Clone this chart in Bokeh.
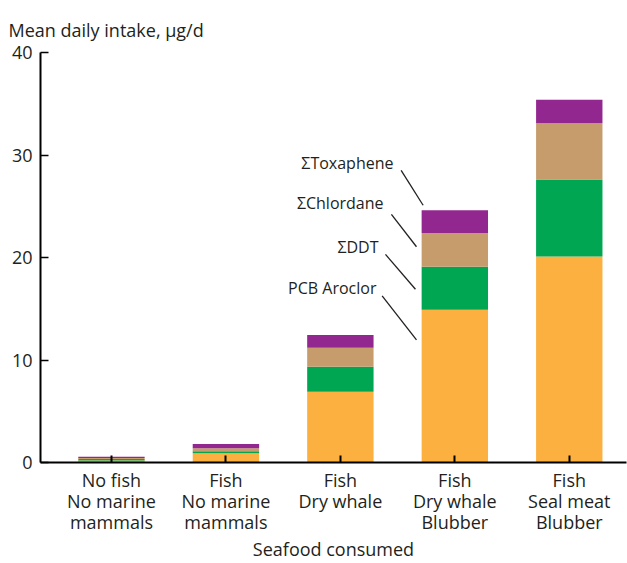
from bokeh.plotting import figure
from bokeh.models import ColumnDataSource, FixedTicker, Range1d
from bokeh.core.properties import value
from bokeh.embed import file_html
from bokeh.resources import INLINE

categories = ["No fish\nNo marine\nmammals", "Fish\nNo marine\nmammals", "Fish\nDry whale",
              "Fish\nDry whale\nBlubber", "Fish\nSeal meat\nBlubber"]
series = ["PCB Aroclor", "ΣDDT", "ΣChlordane", "ΣToxaphene"]
pcb = [0.2, 0.9, 6.9, 14.9, 20.1]
ddt = [0.15, 0.2, 2.45, 4.2, 7.5]
chlordane = [0.1, 0.3, 1.85, 3.3, 5.5]
toxaphene = [0.12, 0.4, 1.25, 2.2, 2.3]
colors = ["#FBB040", "#00A651", "#C69C6D", "#92278F"]
y_ticks = [0, 10, 20, 30, 40]

FONT = "Open Sans"
xs = list(range(len(categories)))
src = ColumnDataSource(dict(x=xs, pcb=pcb, ddt=ddt, chl=chlordane, tox=toxaphene))

p = figure(width=627, height=563, output_backend="svg", toolbar_location=None,
           x_range=Range1d(-0.62, 4.5), y_range=Range1d(0, 40),
           min_border_left=40, min_border_right=1, min_border_top=52, min_border_bottom=100)
p.vbar_stack(["pcb", "ddt", "chl", "tox"], x="x", width=0.58, source=src,
             color=colors, line_color=None)

p.title.text = "Mean daily intake, µg/d"
p.title.align = "left"
p.title.offset = -32
p.title.vertical_align = "top"
p.title.text_font = FONT
p.title.text_font_size = "18px"
p.title.text_font_style = "normal"
p.title.text_color = "#231F20"
p.title.standoff = 18

p.xgrid.visible = False
p.ygrid.visible = False
p.outline_line_color = None
p.background_fill_color = "white"
p.border_fill_color = "white"

xa = p.xaxis[0]
xa.ticker = FixedTicker(ticks=xs)
xa.major_label_overrides = {i: c for i, c in enumerate(categories)}
xa.major_tick_in = 7
xa.major_tick_out = 0
xa.minor_tick_line_color = None
xa.major_tick_line_width = 2
xa.axis_line_width = 2
xa.major_label_standoff = 5
xa.major_label_text_font = FONT
xa.major_label_text_font_size = "18px"
xa.major_label_text_line_height = 0.88
xa.major_label_text_color = "#231F20"
xa.axis_label = "Seafood consumed"
xa.axis_label_text_font = FONT
xa.axis_label_text_font_size = "18px"
xa.axis_label_text_font_style = "normal"
xa.axis_label_text_color = "#231F20"
xa.axis_label_standoff = 0

ya = p.yaxis[0]
ya.ticker = FixedTicker(ticks=y_ticks)
ya.major_tick_in = 8
ya.major_tick_out = 0
ya.minor_tick_line_color = None
ya.major_tick_line_width = 1.5
ya.axis_line_width = 2
ya.major_label_standoff = 8
ya.major_label_text_font = FONT
ya.major_label_text_font_size = "18px"
ya.major_label_text_color = "#231F20"

# leader labels (layout positions in data space)
lab_x = [2.464, 2.377, 2.333, 2.315]
lab_y = [29.2, 25.3, 21.0, 17.0]
lab_t = ["ΣToxaphene", "ΣChlordane", "ΣDDT", "PCB Aroclor"]
p.text(x=lab_x, y=lab_y, text=lab_t, text_font=value(FONT), text_font_size="16px",
       text_align="right", text_baseline="middle", text_color="#231F20")
p.segment(x0=[2.531, 2.446, 2.394, 2.365], y0=[28.5, 24.2, 20.3, 16.25],
          x1=[2.723, 2.665, 2.656, 2.665], y1=[25.1, 21.05, 16.9, 11.97],
          line_color="#231F20", line_width=1.3)

open("out.html", "w").write(file_html(p, INLINE))
